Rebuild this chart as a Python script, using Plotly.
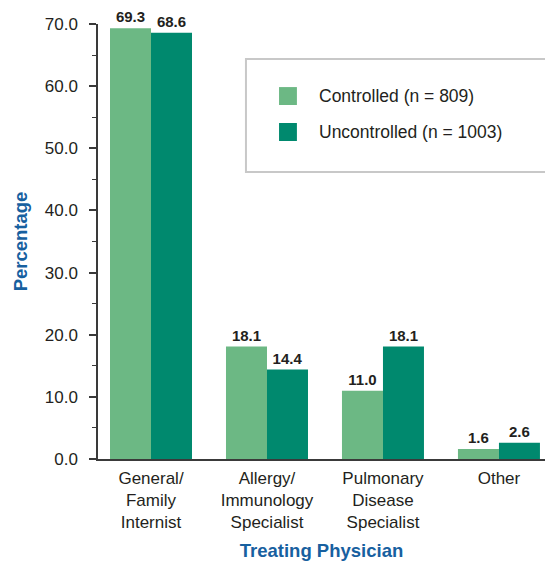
import plotly.graph_objects as go

# Treating physician categories and share of patients (%) per group
categories = ["General/<br>Family<br>Internist",
              "Allergy/<br>Immunology<br>Specialist",
              "Pulmonary<br>Disease<br>Specialist",
              "Other"]
controlled = [69.3, 18.1, 11.0, 1.6]
uncontrolled = [68.6, 14.4, 18.1, 2.6]
series_names = ["Controlled (n = 809)", "Uncontrolled (n = 1003)"]
y_ticks = [0, 10, 20, 30, 40, 50, 60, 70]

LIGHT = "#6cb884"
DARK = "#00896e"
BLUE = "#17609f"
TEXT = "#231f20"
FONT = "Liberation Sans, Arial, sans-serif"

fig = go.Figure()
for name, vals, col in [(series_names[0], controlled, LIGHT),
                        (series_names[1], uncontrolled, DARK)]:
    fig.add_trace(go.Bar(
        x=list(range(len(categories))), y=vals, name=name,
        marker=dict(color=col, line=dict(width=0)),
        text=[f"{v:.1f}" for v in vals], textposition="outside",
        textfont=dict(family=FONT, size=15, color=TEXT, weight="bold"),
        cliponaxis=False, constraintext="none", showlegend=False,
    ))

fig.update_layout(
    width=545, height=561,
    margin=dict(l=98, r=0, t=24, b=102),
    paper_bgcolor="white", plot_bgcolor="white",
    barmode="group", bargap=0.293, bargroupgap=0,
    font=dict(family=FONT, color=TEXT),
)

fig.update_xaxes(
    range=[-0.457, 3.397], tickmode="array",
    tickvals=list(range(len(categories))), ticktext=categories,
    tickfont=dict(size=17, color=TEXT), ticks="", ticklabelstandoff=3,
    showline=True, linecolor="#3a3a3a", linewidth=1.5,
    showgrid=False, zeroline=False,
    title=dict(text="Treating Physician", standoff=17,
               font=dict(size=18.5, color=BLUE, weight="bold")),
)

fig.update_yaxes(
    range=[0, 70], tickmode="array", tickvals=y_ticks,
    ticktext=[f"{t:.1f}" for t in y_ticks],
    tickfont=dict(size=17, color=TEXT), ticklabelstandoff=8,
    ticks="outside", ticklen=7, tickwidth=1.5, tickcolor="#3a3a3a",
    minor=dict(dtick=5, ticks="outside", ticklen=4, tickwidth=1.2, tickcolor="#3a3a3a"),
    showline=True, linecolor="#3a3a3a", linewidth=1.5,
    showgrid=False, zeroline=False,
    title=dict(text="Percentage", standoff=12,
               font=dict(size=18.5, color=BLUE, weight="bold")),
)

# Legend panel drawn in paper coordinates
fig.add_shape(type="rect", xref="paper", yref="paper",
              x0=0.331, x1=1.01, y0=0.660, y1=0.9195,
              line=dict(color="#c8c8c8", width=2), fillcolor="white", layer="below")
swatch_rows = [(0.855, 0.8138), (0.7724, 0.731)]
for (y1, y0), col, name in zip(swatch_rows, [LIGHT, DARK], series_names):
    fig.add_shape(type="rect", xref="paper", yref="paper",
                  x0=0.405, x1=0.445, y0=y0, y1=y1,
                  line=dict(width=0), fillcolor=col)
    fig.add_annotation(xref="paper", yref="paper", x=0.489, y=(y0 + y1) / 2,
                       text=name, showarrow=False, xanchor="left", yanchor="middle",
                       font=dict(size=17.5, color=TEXT))

fig.write_html("out.html")
